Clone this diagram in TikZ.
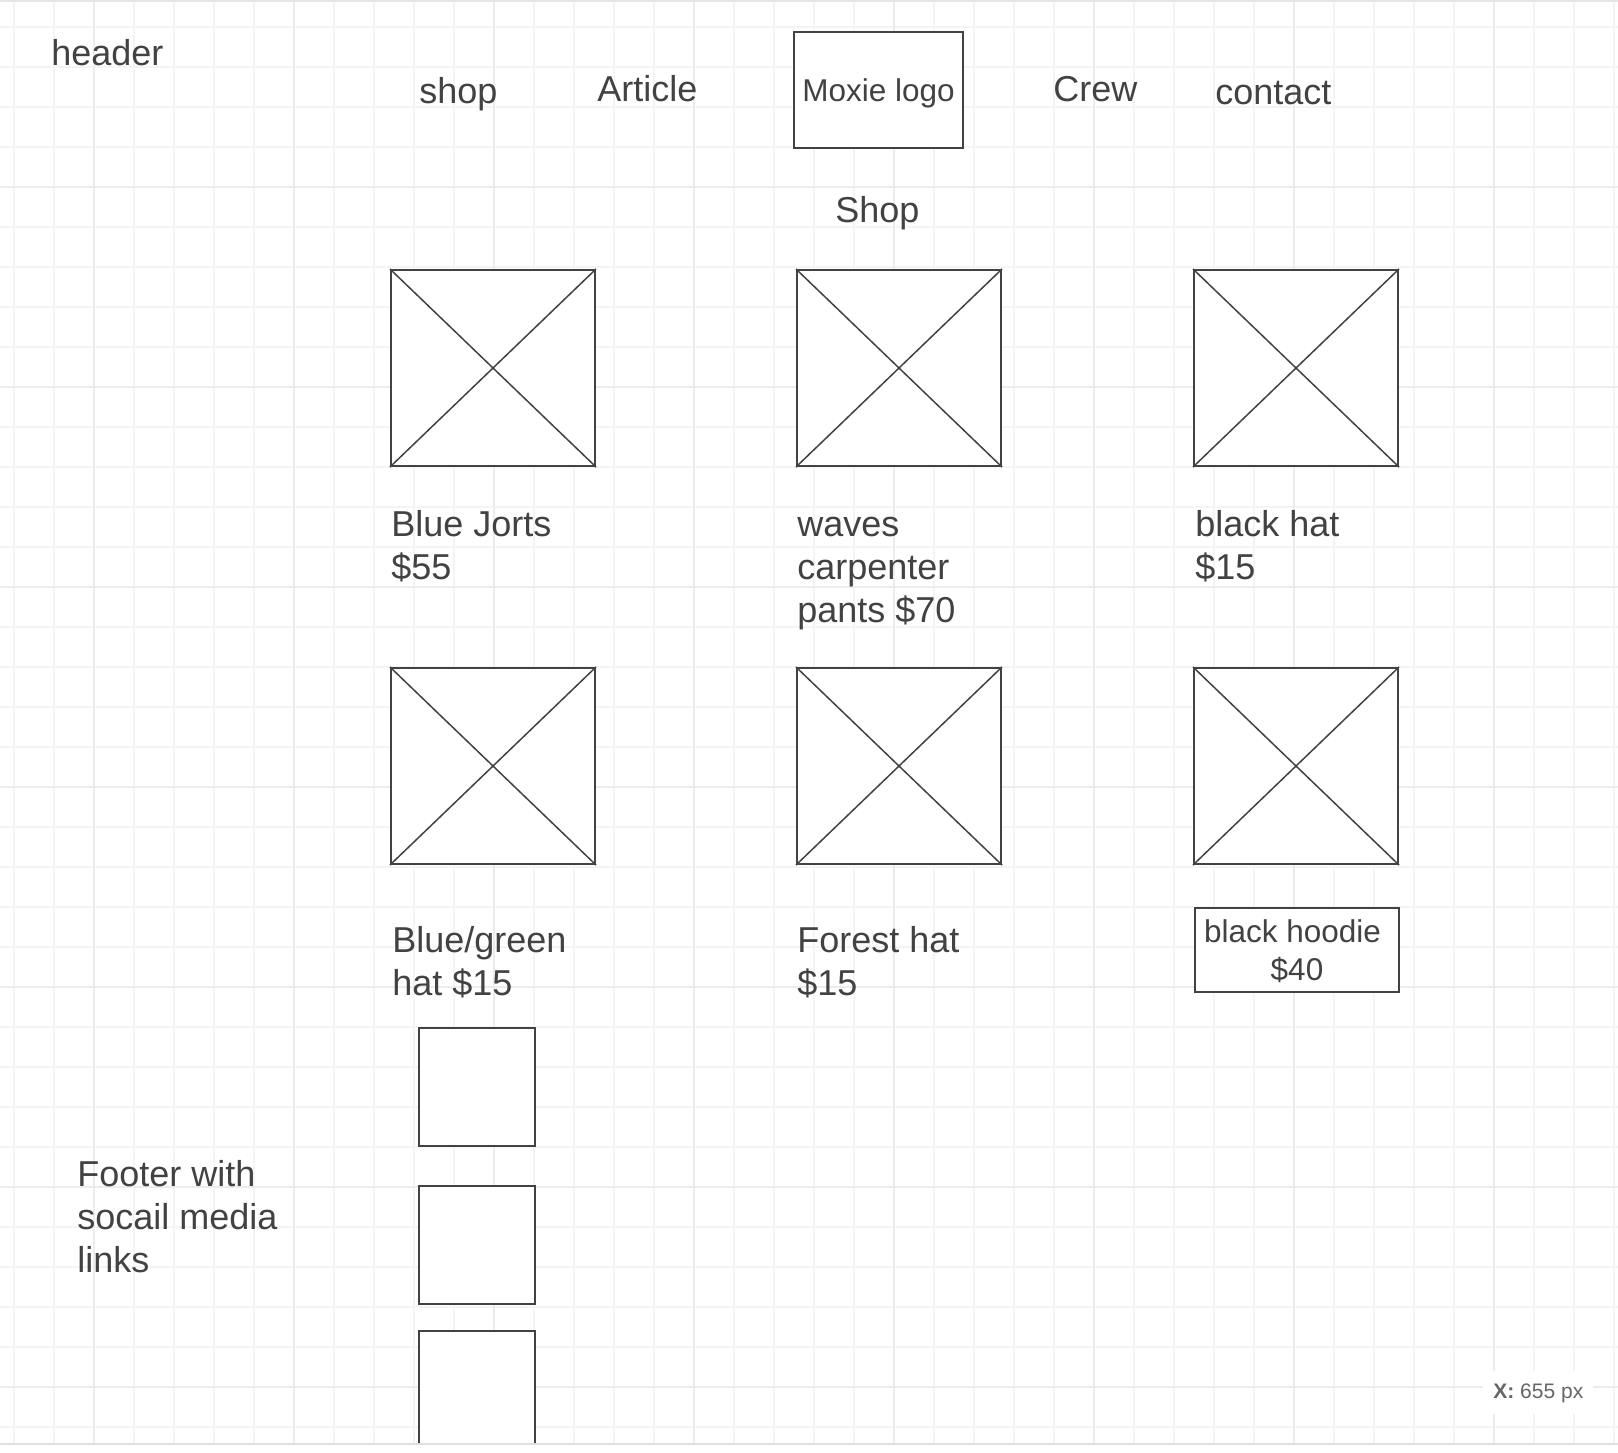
\documentclass[tikz,border=0pt]{standalone}
\usepackage{fontspec}
\setmainfont{Liberation Sans}
\usepackage{tikz}
\usetikzlibrary{positioning, calc}

\definecolor{ink}{HTML}{424242}
\definecolor{hint}{HTML}{666666}

\tikzset{
    minorgrid/.style = {draw=gray!9, line width=0.75pt},
    majorgrid/.style = {draw=gray!15, line width=0.75pt},
    label/.style = {inner sep=0pt, anchor=base west, text=ink, align=left,
        font=\fontsize{18}{21.5}\selectfont},
    frame/.style = {draw=ink, line width=1pt, fill=white, inner sep=0pt},
    framedtext/.style = {frame, text=ink, align=center, text depth=0pt,
        font=\fontsize{15.75}{19}\selectfont},
    imgbox/.style = {frame, minimum width=102pt, minimum height=98pt},
    iconbox/.style = {frame, minimum width=58pt, minimum height=59pt}
}

\begin{document}
\begin{tikzpicture}[x=0.5pt, y=-0.5pt]
    \useasboundingbox[fill=white] (0,0) rectangle (1618,1452);

    % grid of the canvas
    \foreach \gx in {14,54,...,1614}
        \draw[minorgrid] (\gx,0) -- (\gx,1444);
    \foreach \gy in {27,67,...,1427}
        \draw[minorgrid] (0,\gy) -- (1618,\gy);
    \foreach \gx in {94,294,...,1494}
        \draw[majorgrid] (\gx,0) -- (\gx,1444);
    \foreach \gy in {187,387,...,1387}
        \draw[majorgrid] (0,\gy) -- (1618,\gy);
    \draw[gray!20, line width=1pt] (0,1) -- (1618,1);

    \begin{scope}
        \clip (0,0) rectangle (1618,1444);

        % header and navigation
        \node[label] (header) at (51,65) {header};
        \node[label] (navshop) at (419,103) {shop};
        \node[label] (navarticle) at (597,101) {Article};
        \node[framedtext, minimum width=84.5pt, minimum height=58pt] (logo) at (878.5,90) {Moxie logo};
        \node[label] (navcrew) at (1053,101) {Crew};
        \node[label] (navcontact) at (1215,104) {contact};

        \node[label] (shoptitle) at (835,222) {Shop};

        % product pictures
        \foreach \name/\cx/\cy in {img11/493/368, img12/899/368, img13/1296/368,
                                   img21/493/766, img22/899/766, img23/1296/766}
        {
            \node[imgbox] (\name) at (\cx,\cy) {};
            \draw[ink, line width=0.75pt] (\name.north west) -- (\name.south east)
                (\name.south west) -- (\name.north east);
        }

        % product labels (placed at the baseline of their last line)
        \node[label] (jorts) at (391,579) {Blue Jorts\\\$55};
        \node[label] (pants) at (797,622) {waves\\carpenter\\pants \$70};
        \node[label] (blackhat) at (1195,579) {black hat\\\$15};
        \node[label] (bluehat) at (392,995) {Blue/green\\hat \$15};
        \node[label] (foresthat) at (797,995) {Forest hat\\\$15};
        \node[framedtext, minimum width=102pt, minimum height=42pt] (hoodie) at (1297,950)
              {black hoodie\hphantom{\ }\\\$40};

        % footer
        \node[label] (footer) at (77,1272) {Footer with\\socail media\\links};
        \node[iconbox] (social1) at (477,1087) {};
        \node[iconbox] (social2) at (477,1245) {};
        \node[iconbox, anchor=north] (social3) at (477,1330) {};
    \end{scope}
    \draw[gray!25, line width=1pt] (0,1444) -- (1618,1444);

    \node[fill=white, inner xsep=5pt, inner ysep=6pt, anchor=base west, text=hint,
          font=\fontsize{10.5}{12}\selectfont] (cursor) at (1483,1398) {\textbf{X:} 655 px};
\end{tikzpicture}
\end{document}
